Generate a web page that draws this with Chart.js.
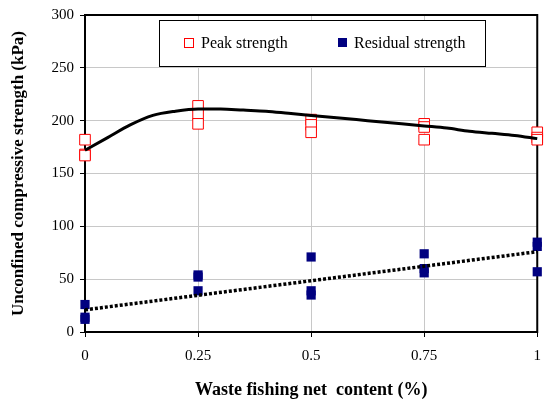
<!DOCTYPE html>
<html>
<head>
<meta charset="utf-8">
<script src="https://cdn.jsdelivr.net/npm/chart.js@4/dist/chart.umd.min.js"></script>
<style>
html,body{margin:0;padding:0;background:#fff;}
#wrap{width:551px;height:409px;position:relative;}
</style>
</head>
<body>
<div id="wrap"><canvas id="c" width="551" height="409"></canvas></div>
<script>
// ---- data ----
const netContent = [0, 0.25, 0.5, 0.75, 1];
const xTickLabels = ['0', '0.25', '0.5', '0.75', '1'];
const peakRep1 = [182, 214, 201, 197, 189];
const peakRep2 = [168, 206, 196, 194, 184];
const peakRep3 = [167, 197, 189, 182, 182];
const residualRep1 = [26, 54, 71, 74, 85];
const residualRep2 = [14, 52, 39, 60, 81];
const residualRep3 = [12, 39, 35, 56, 57];
const peakCurveX = [0, 0.05, 0.1, 0.15, 0.2, 0.25, 0.3, 0.35, 0.4, 0.45, 0.5, 0.55, 0.6, 0.65, 0.7, 0.75, 0.8, 0.85, 0.9, 0.95, 1];
const peakCurveY = [172, 184, 196, 205, 209, 211, 211, 210, 209, 207, 205, 203, 201, 199, 197, 195, 193, 190, 188, 186, 183];
const residualTrendX = [0, 1];
const residualTrendY = [21, 76];
const yTicks = [0, 50, 100, 150, 200, 250, 300];
const seriesNames = ['Peak strength', 'Residual strength'];

function pts(xs, ys) { return xs.map((x, i) => ({x: x, y: ys[i]})); }
function reps(xs, arrs) { let o = []; arrs.forEach(a => o = o.concat(pts(xs, a))); return o; }

const SERIF = '"Liberation Serif", "Times New Roman", serif';

const frameAndLegend = {
  id: 'frameAndLegend',
  beforeDatasetsDraw(chart) {
    const ctx = chart.ctx, a = chart.chartArea;
    ctx.save();
    ctx.strokeStyle = '#000';
    ctx.lineWidth = 2;
    ctx.strokeRect(a.left, a.top, a.right - a.left, a.bottom - a.top);
    ctx.restore();
  },
  afterDatasetsDraw(chart) {
    const ctx = chart.ctx;
    ctx.save();
    // legend
    const lx = 159, ly = 20, lw = 326, lh = 46;
    ctx.fillStyle = '#fff';
    ctx.fillRect(lx, ly, lw, lh);
    ctx.lineWidth = 1;
    ctx.strokeStyle = '#000';
    ctx.strokeRect(lx + 0.5, ly + 0.5, lw, lh);
    const cy = ly + 24;
    ctx.strokeStyle = '#ff0000';
    ctx.fillStyle = '#fff';
    ctx.fillRect(184.5, cy - 5.5, 9, 9);
    ctx.strokeRect(184.5, cy - 5.5, 9, 9);
    ctx.fillStyle = '#000080';
    ctx.fillRect(338, cy - 6, 9, 9);
    ctx.fillStyle = '#000';
    ctx.font = '16px ' + SERIF;
    ctx.textBaseline = 'middle';
    ctx.textAlign = 'left';
    ctx.fillText(seriesNames[0], 201, cy);
    ctx.fillText(seriesNames[1], 354, cy);
    ctx.restore();
  }
};

new Chart(document.getElementById('c'), {
  type: 'scatter',
  data: {
    datasets: [
      {
        label: 'Peak strength curve', type: 'line', data: pts(peakCurveX, peakCurveY),
        borderColor: '#000', borderWidth: 3, pointRadius: 0, tension: 0.4,
        cubicInterpolationMode: 'monotone', fill: false, order: 0, clip: false
      },
      {
        label: 'Residual strength trend', type: 'line', data: pts(residualTrendX, residualTrendY),
        borderColor: '#000', borderWidth: 3.5, borderDash: [3, 2], pointRadius: 0, fill: false, order: 0, clip: false
      },
      {
        label: seriesNames[0], data: reps(netContent, [peakRep1, peakRep2, peakRep3]),
        pointStyle: 'rect', pointRadius: 7.5, backgroundColor: '#fff', borderColor: '#ff0000', borderWidth: 1, order: 1, clip: false
      },
      {
        label: seriesNames[1], data: reps(netContent, [residualRep1, residualRep2, residualRep3]),
        pointStyle: 'rect', pointRadius: 6.5, backgroundColor: '#000080', borderColor: '#000080', borderWidth: 0, order: 1, clip: false
      }
    ]
  },
  options: {
    responsive: false,
    animation: false,
    devicePixelRatio: 1,
    layout: { padding: { left: 0, top: 12, right: 10, bottom: 8 } },
    plugins: { legend: { display: false }, tooltip: { enabled: false } },
    scales: {
      x: {
        type: 'linear', min: 0, max: 1,
        afterBuildTicks: s => { s.ticks = netContent.map(v => ({value: v})); },
        afterFit: s => { s.height = 69; },
        ticks: {
          callback: (v, i) => xTickLabels[i], color: '#000', padding: 10,
          font: { family: SERIF, size: 15 }, maxRotation: 0, autoSkip: false
        },
        grid: { color: '#c8c8c8', lineWidth: 1, tickColor: '#000', tickLength: 5, drawTicks: true },
        border: { display: false },
        title: { display: true, text: 'Waste fishing net  content (%)', color: '#000',
          font: { family: SERIF, size: 18, weight: 'bold' }, padding: { top: 0, bottom: 0 } }
      },
      y: {
        min: 0, max: 300,
        afterBuildTicks: s => { s.ticks = yTicks.map(v => ({value: v})); },
        afterFit: s => { s.width = 85; },
        ticks: { color: '#000', padding: 6, font: { family: SERIF, size: 15 } },
        grid: { color: '#c8c8c8', lineWidth: 1, tickColor: '#000', tickLength: 5 },
        border: { display: false },
        title: { display: true, text: 'Unconfined compressive strength (kPa)', color: '#000',
          font: { family: SERIF, size: 17, weight: 'bold' }, padding: { top: 8, bottom: 0 } }
      }
    }
  },
  plugins: [frameAndLegend]
});
</script>
</body>
</html>
